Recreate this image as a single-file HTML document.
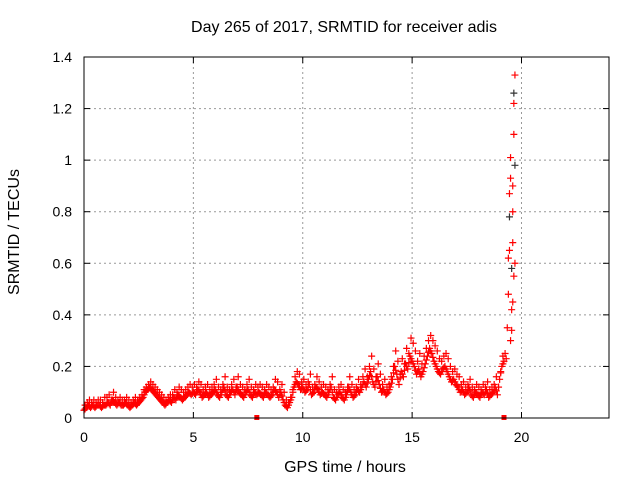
<!DOCTYPE html>
<html><head><meta charset="utf-8">
<style>
body{margin:0;background:#fff;}
svg{display:block;font-family:"Liberation Sans","DejaVu Sans",sans-serif;}
</style></head>
<body>
<svg id="chart" width="640" height="480">
<text x="344" y="32" font-size="16" text-anchor="middle">Day 265 of 2017, SRMTID for receiver adis</text>
<text x="345" y="472" font-size="16" text-anchor="middle">GPS time / hours</text>
<text transform="translate(19,232) rotate(-90)" font-size="16" text-anchor="middle">SRMTID / TECUs</text>
<g id="grid"></g><g id="ticks"></g><g id="pts"></g>
<rect x="84" y="57" width="525" height="361" fill="none" stroke="#000" stroke-width="1"/>
</svg>
<script>
const xTicks=[0,5,10,15,20];
const yTicks=[0,0.2,0.4,0.6,0.8,1,1.2,1.4];
const yTickLabels=["0","0.2","0.4","0.6","0.8","1","1.2","1.4"];
const startHour=0, stepHour=0.1;
const baseVals=[0.03,0.04,0.05,0.04,0.05,0.04,0.05,0.05,0.04,0.05,
0.05,0.06,0.05,0.07,0.06,0.05,0.06,0.05,0.05,0.06,
0.05,0.04,0.05,0.06,0.05,0.06,0.07,0.08,0.10,0.11,
0.12,0.11,0.10,0.09,0.08,0.07,0.06,0.05,0.06,0.07,
0.06,0.08,0.07,0.09,0.08,0.07,0.08,0.09,0.10,0.09,
0.10,0.09,0.11,0.10,0.08,0.09,0.10,0.08,0.09,0.10,
0.11,0.09,0.08,0.10,0.12,0.09,0.08,0.10,0.11,0.09,
0.12,0.10,0.09,0.08,0.10,0.11,0.09,0.08,0.10,0.09,
0.10,0.09,0.08,0.10,0.09,0.08,0.09,0.11,0.10,0.08,
0.10,0.07,0.05,0.04,0.06,0.08,0.12,0.14,0.13,0.11,
0.12,0.10,0.11,0.13,0.09,0.10,0.12,0.11,0.09,0.10,
0.09,0.08,0.10,0.12,0.08,0.07,0.09,0.10,0.08,0.07,
0.09,0.12,0.10,0.08,0.09,0.11,0.10,0.12,0.14,0.12,
0.15,0.18,0.14,0.12,0.16,0.13,0.10,0.11,0.09,0.10,
0.12,0.15,0.20,0.17,0.13,0.18,0.16,0.21,0.19,0.24,
0.22,0.20,0.17,0.19,0.16,0.18,0.21,0.24,0.27,0.25,
0.22,0.20,0.18,0.17,0.19,0.20,0.18,0.16,0.14,0.15,
0.13,0.12,0.10,0.11,0.09,0.10,0.12,0.09,0.08,0.10,
0.09,0.08,0.10,0.09,0.11,0.08,0.09,0.10,0.12,0.09,
0.15,0.20,0.22];
const upperVals=[0.05,0.06,0.07,0.06,0.07,0.06,0.07,0.07,0.06,0.08,
0.08,0.09,0.07,0.10,0.08,0.07,0.08,0.07,0.07,0.08,
0.07,0.06,0.07,0.08,0.07,0.08,0.09,0.11,0.12,0.13,
0.14,0.13,0.12,0.11,0.10,0.09,0.08,0.07,0.08,0.09,
0.09,0.11,0.10,0.12,0.11,0.10,0.11,0.12,0.13,0.12,
0.13,0.12,0.14,0.13,0.11,0.12,0.13,0.11,0.12,0.13,
0.15,0.12,0.11,0.13,0.16,0.12,0.11,0.13,0.15,0.12,
0.16,0.13,0.12,0.11,0.13,0.15,0.12,0.11,0.13,0.12,
0.13,0.12,0.11,0.13,0.12,0.11,0.12,0.15,0.14,0.11,
0.13,0.10,0.07,0.06,0.08,0.11,0.16,0.18,0.17,0.14,
0.15,0.13,0.14,0.17,0.12,0.13,0.16,0.14,0.12,0.13,
0.12,0.11,0.13,0.16,0.11,0.10,0.12,0.13,0.11,0.10,
0.12,0.16,0.13,0.11,0.12,0.15,0.13,0.16,0.19,0.16,
0.20,0.24,0.19,0.16,0.21,0.17,0.13,0.15,0.12,0.13,
0.16,0.20,0.26,0.22,0.17,0.23,0.21,0.27,0.25,0.31,
0.29,0.26,0.22,0.25,0.21,0.24,0.27,0.30,0.32,0.30,
0.28,0.26,0.23,0.22,0.24,0.25,0.23,0.20,0.18,0.19,
0.17,0.16,0.13,0.14,0.12,0.13,0.15,0.12,0.11,0.13,
0.12,0.11,0.13,0.12,0.14,0.11,0.12,0.13,0.16,0.12,
0.18,0.24,0.25];
const spikeHours=[19.3,19.35,19.4,19.4,19.45,19.45,19.45,19.5,19.5,19.5,19.55,19.55,19.6,19.6,19.6,19.65,19.65,19.65,19.7,19.55,19.6,19.65,19.7,19.7];
const spikeVals=[0.23,0.35,0.48,0.62,0.65,0.78,0.87,0.93,1.01,0.30,0.42,0.58,0.68,0.80,0.90,1.10,1.22,1.26,1.33,0.34,0.45,0.55,0.60,0.98];
const markerHours=[7.9,19.2];

const X=h=>84+h*(525/24), Y=v=>418-v*(361/1.4);
const NS="http://www.w3.org/2000/svg";
const grid=document.getElementById('grid'),ticks=document.getElementById('ticks'),pts=document.getElementById('pts');
function mk(tag,attrs,parent){const e=document.createElementNS(NS,tag);for(const k in attrs)e.setAttribute(k,attrs[k]);parent.appendChild(e);return e;}
xTicks.forEach(t=>{
  const x=X(t);
  if(t>0){const g=mk('line',{x1:x,x2:x,y1:57,y2:418,stroke:'#999','stroke-dasharray':'2,3','stroke-width':1},grid);
  
  }
  mk('line',{x1:x,x2:x,y1:418,y2:412,stroke:'#000'},ticks);
  mk('line',{x1:x,x2:x,y1:57,y2:63,stroke:'#000'},ticks);
  const l=mk('text',{x:x,y:442,'font-size':14,'text-anchor':'middle'},ticks);l.textContent=t;
  
  
});
yTicks.forEach((t,i)=>{
  const y=Y(t);
  if(t>0&&t<1.4){const g=mk('line',{x1:84,x2:609,y1:y,y2:y,stroke:'#999','stroke-dasharray':'2,3','stroke-width':1},grid);
  
  }
  mk('line',{x1:84,x2:90,y1:y,y2:y,stroke:'#000'},ticks);
  mk('line',{x1:609,x2:603,y1:y,y2:y,stroke:'#000'},ticks);
  const l=mk('text',{x:72,y:y+5,'font-size':14,'text-anchor':'end'},ticks);l.textContent=yTickLabels[i];
  
  
});
function cross(h,v,color){
  const x=X(h),y=Y(v);
  const p=mk('path',{d:`M${x-3.5},${y}h7M${x},${y-3.5}v7`,stroke:color,'stroke-width':1.2,fill:'none'},pts);
  
  
}
baseVals.forEach((v,i)=>cross(startHour+i*stepHour,v,'#f00'));
upperVals.forEach((v,i)=>cross(startHour+i*stepHour+0.05,v,'#f00'));
baseVals.forEach((v,i)=>{if(i+1<baseVals.length)cross(startHour+i*stepHour+0.05,(v+baseVals[i+1])/2,'#f00');});
spikeHours.forEach((h,i)=>cross(h,spikeVals[i],i%6===5?'#333':'#f00'));
markerHours.forEach(h=>{
  const r=mk('rect',{x:X(h)-2.5,y:415,width:5,height:5,fill:'#f00'},pts);
  
  
});
</script>
</body></html>
